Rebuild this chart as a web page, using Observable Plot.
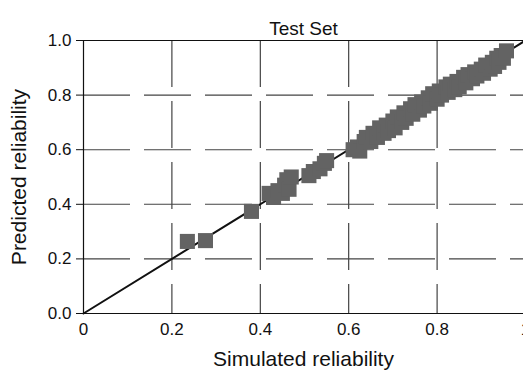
<!DOCTYPE html>
<html>
<head>
<meta charset="utf-8">
<script src="https://cdn.jsdelivr.net/npm/d3@7"></script>
<script src="https://cdn.jsdelivr.net/npm/@observablehq/plot@0.6"></script>
<style>
  html, body { margin: 0; padding: 0; background: #fff; }
</style>
</head>
<body>
<div id="chart"></div>
<script>
const titleText = "Test Set";
const xLabel = "Simulated reliability";
const yLabel = "Predicted reliability";
const xTicks = [0, 0.2, 0.4, 0.6, 0.8, 1];
const xTickLabels = ["0", "0.2", "0.4", "0.6", "0.8", "1"];
const yTicks = [0, 0.2, 0.4, 0.6, 0.8, 1];
const yTickLabels = ["0.0", "0.2", "0.4", "0.6", "0.8", "1.0"];
const gridX = [0.2, 0.4, 0.6, 0.8];
const gridY = [0.2, 0.4, 0.6, 0.8];

const simulated = [
  0.235, 0.276, 0.38,
  0.42, 0.43, 0.44, 0.45, 0.455, 0.46, 0.465, 0.47,
  0.51, 0.52, 0.535, 0.545, 0.55,
  0.61, 0.62, 0.625, 0.635, 0.64, 0.65, 0.655, 0.665, 0.67, 0.68,
  0.685, 0.69, 0.70, 0.705, 0.71, 0.72, 0.725, 0.73, 0.74, 0.745,
  0.75, 0.76, 0.765, 0.77, 0.78, 0.785, 0.79, 0.80, 0.805, 0.81,
  0.82, 0.825, 0.83, 0.84, 0.845, 0.85, 0.86, 0.865, 0.87, 0.88,
  0.885, 0.89, 0.90, 0.905, 0.91, 0.92, 0.925, 0.93, 0.935, 0.94,
  0.945, 0.95, 0.957
];
const predicted = [
  0.264, 0.267, 0.374,
  0.44, 0.425, 0.45, 0.44, 0.47, 0.49, 0.455, 0.50,
  0.505, 0.52, 0.53, 0.55, 0.56,
  0.60, 0.61, 0.595, 0.63, 0.645, 0.63, 0.66, 0.645, 0.68, 0.66,
  0.69, 0.67, 0.705, 0.68, 0.72, 0.70, 0.735, 0.715, 0.75, 0.73,
  0.765, 0.745, 0.775, 0.76, 0.79, 0.77, 0.805, 0.785, 0.815, 0.80,
  0.83, 0.81, 0.84, 0.82, 0.85, 0.83, 0.865, 0.845, 0.875, 0.86,
  0.885, 0.87, 0.895, 0.88, 0.91, 0.895, 0.92, 0.905, 0.935, 0.92,
  0.945, 0.935, 0.962
];
const diagonal = [0, 1];

const points = simulated.map((x, i) => ({x, y: predicted[i]}));
const fontFamily = "'Liberation Sans', Arial, Helvetica, sans-serif";

const chart = Plot.plot({
  width: 523,
  height: 375,
  marginTop: 40,
  marginBottom: 62,
  marginLeft: 83,
  marginRight: 0,
  x: {domain: [0, 1], range: [83, 525]},
  y: {domain: [0, 1]},
  style: {fontFamily, fontSize: "17px", background: "#fff", color: "#111"},
  marks: [
    Plot.ruleX(gridX, {stroke: "#333", strokeWidth: 1.1, strokeDasharray: "47,14"}),
    Plot.ruleY(gridY, {stroke: "#444", strokeWidth: 1.1, strokeDasharray: "47,14"}),
    Plot.ruleY([1], {stroke: "#111", strokeWidth: 1.2}),
    Plot.ruleX([0], {stroke: "#111", strokeWidth: 1.2}),
    Plot.ruleY([0], {stroke: "#111", strokeWidth: 1.2}),
    Plot.line(diagonal, {x: d => d, y: d => d, stroke: "#111", strokeWidth: 2}),
    Plot.dot(points, {x: "x", y: "y", symbol: "square", r: 8.5, fill: "#636363", stroke: "none"}),
    Plot.axisX({ticks: xTicks, tickFormat: (d, i) => xTickLabels[i], tickSize: 0, tickPadding: 9, fontSize: 17, label: null}),
    Plot.axisY({ticks: yTicks, tickFormat: (d, i) => yTickLabels[i], tickSize: 7, tickPadding: 5, fontSize: 17, label: null, stroke: "#111"}),
    Plot.text([titleText], {frameAnchor: "top", dy: -19, fontSize: 19, fill: "#111"}),
    Plot.text([xLabel], {frameAnchor: "bottom", dy: 52, fontSize: 21, fill: "#111"}),
    Plot.text([yLabel], {frameAnchor: "left", textAnchor: "middle", dx: -64, rotate: -90, fontSize: 21, fill: "#111"})
  ]
});
document.getElementById("chart").appendChild(chart);
</script>
</body>
</html>
